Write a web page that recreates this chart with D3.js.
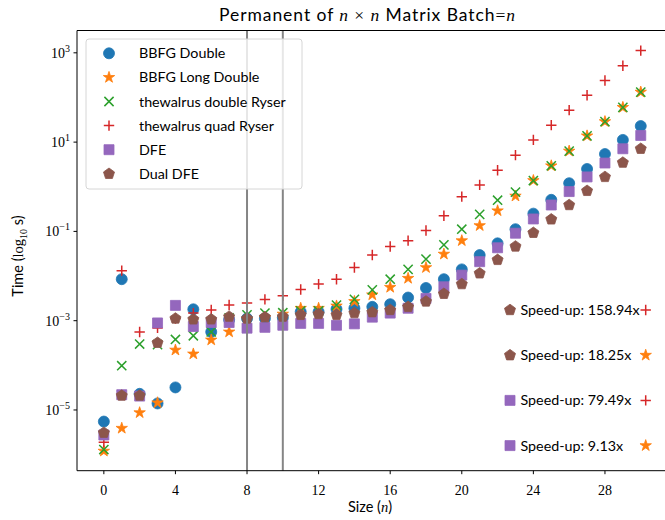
<!DOCTYPE html>
<html lang="en">
<head>
<meta charset="UTF-8">
<title>Permanent timing</title>
<script src="https://d3js.org/d3.v7.min.js"></script>
<style>
  body { margin: 0; background: #fff; }
  .sans { font-family: Lato, "DejaVu Sans", sans-serif; }
  .math { font-family: "Liberation Serif", "DejaVu Serif", serif; }
</style>
</head>
<body>
<svg id="chart" width="665" height="520"></svg>
<script>
  // matrix size n
  var sizes = d3.range(0, 31);

  // times in seconds
  var bbfgDouble = [5.5e-6, 8.5e-3, 2.3e-5, 1.4e-5, 3.2e-5, 1.8e-3, 5.6e-4, 1.05e-3, 1.12e-3, 1.12e-3,
    1.17e-3, 1.58e-3, 1.58e-3, 1.82e-3, 1.9e-3, 2.04e-3, 2.34e-3, 3.3e-3, 5.4e-3, 8.5e-3,
    1.41e-2, 2.95e-2, 5.4e-2, 0.112, 0.25, 0.51, 1.2, 2.5, 5.4, 11.2, 22.9];
  var bbfgLongDouble = [1.2e-6, 3.9e-6, 8.7e-6, 1.45e-5, 2.2e-4, 1.8e-4, 3.7e-4, 5.6e-4, 1.07e-3, 1.17e-3,
    1.41e-3, 1.9e-3, 1.9e-3, 2.14e-3, 2.7e-3, 3.8e-3, 5.6e-3, 8.9e-3, 1.55e-2, 3.1e-2,
    6.2e-2, 0.135, 0.29, 0.62, 1.38, 2.95, 6.3, 13.8, 28.8, 60, 132];
  var walrusDouble = [1.3e-6, 9.8e-5, 3.0e-4, 2.9e-4, 3.8e-4, 4.6e-4, 5.6e-4, 1.15e-3, 1.35e-3, 1.48e-3,
    1.51e-3, 1.66e-3, 1.66e-3, 2.24e-3, 3.0e-3, 4.9e-3, 8.5e-3, 1.41e-2, 2.4e-2, 5.0e-2,
    0.112, 0.24, 0.50, 0.76, 1.38, 2.95, 6.3, 13.8, 28.8, 60, 132];
  var walrusQuad = [1.9e-6, 1.32e-2, 5.6e-4, 6.9e-4, 1.12e-3, 1.48e-3, 1.74e-3, 2.24e-3, 2.5e-3, 3.0e-3,
    3.6e-3, 5.0e-3, 6.6e-3, 8.5e-3, 1.55e-2, 2.95e-2, 4.6e-2, 6.2e-2, 0.105, 0.224,
    0.60, 1.10, 2.34, 5.1, 11.2, 24, 52, 112, 240, 513, 1122];
  var dfe = [2.75e-6, 2.2e-5, 2.05e-5, 8.9e-4, 2.2e-3, 7.4e-4, 9.1e-4, 9.1e-4, 6.8e-4, 7.1e-4,
    7.9e-4, 8.7e-4, 8.7e-4, 7.9e-4, 8.5e-4, 1.2e-3, 1.48e-3, 1.9e-3, 3.16e-3, 5.75e-3,
    1.05e-2, 2.1e-2, 4.3e-2, 9.1e-2, 0.19, 0.39, 0.78, 1.66, 3.4, 7.1, 14.1];
  var dualDfe = [3.1e-6, 2.1e-5, 2.1e-5, 3.2e-4, 1.12e-3, 1.07e-3, 1.07e-3, 1.23e-3, 1.12e-3, 1.2e-3,
    1.23e-3, 1.35e-3, 1.41e-3, 1.35e-3, 1.48e-3, 1.55e-3, 1.74e-3, 2.04e-3, 2.7e-3, 4.0e-3,
    6.6e-3, 1.15e-2, 2.3e-2, 4.6e-2, 9.3e-2, 0.186, 0.39, 0.81, 1.66, 3.47, 7.1];

  var seriesNames = ["BBFG Double", "BBFG Long Double", "thewalrus double Ryser",
    "thewalrus quad Ryser", "DFE", "Dual DFE"];
  var seriesValues = [bbfgDouble, bbfgLongDouble, walrusDouble, walrusQuad, dfe, dualDfe];
  var seriesColors = ["#1f77b4", "#ff7f0e", "#2ca02c", "#d62728", "#9467bd", "#8c564b"];
  var seriesMarkers = ["circle", "star", "x", "plus", "square", "pentagon"];

  var xTicks = [0, 4, 8, 12, 16, 20, 24, 28];
  var yTickExps = [-5, -3, -1, 1, 3];
  var markedSizes = [8, 10];

  // speed-up notes: [label, left marker, right marker]
  var speedups = [
    ["Speed-up: 158.94x", "pentagon", "plus"],
    ["Speed-up: 18.25x", "pentagon", "star"],
    ["Speed-up: 79.49x", "square", "plus"],
    ["Speed-up: 9.13x", "square", "star"]
  ];

  var svg = d3.select("#chart");
  var plotLeft = 77, plotRight = 667.6, plotTop = 30.5, plotBottom = 470.7;

  var x = d3.scaleLinear().domain([-1.5, 31.5]).range([plotLeft, plotRight]);
  var y = d3.scaleLog().domain([Math.pow(10, -6.36), Math.pow(10, 3.5)]).range([plotBottom, plotTop]);

  function markerPath(kind) {
    var p = d3.path();
    if (kind === "circle") {
      return d3.symbol(d3.symbolCircle, 95)();
    } else if (kind === "square") {
      return d3.symbol(d3.symbolSquare, 100)();
    } else if (kind === "pentagon") {
      var r = 5.8;
      for (var i = 0; i < 5; i++) {
        var a = -Math.PI / 2 + i * 2 * Math.PI / 5;
        if (i === 0) p.moveTo(r * Math.cos(a), r * Math.sin(a)); else p.lineTo(r * Math.cos(a), r * Math.sin(a));
      }
      p.closePath();
      return p.toString();
    } else if (kind === "star") {
      var ro = 6.0, ri = ro * 0.382;
      for (var j = 0; j < 10; j++) {
        var b = -Math.PI / 2 + j * Math.PI / 5;
        var rr = j % 2 === 0 ? ro : ri;
        if (j === 0) p.moveTo(rr * Math.cos(b), rr * Math.sin(b)); else p.lineTo(rr * Math.cos(b), rr * Math.sin(b));
      }
      p.closePath();
      return p.toString();
    } else if (kind === "plus") {
      return "M-5.2,0H5.2M0,-5.2V5.2";
    } else {
      return "M-4.6,-4.6L4.6,4.6M-4.6,4.6L4.6,-4.6";
    }
  }

  function drawMarker(g, kind, color) {
    var stroked = kind === "plus" || kind === "x";
    g.append("path")
      .attr("d", markerPath(kind))
      .attr("fill", stroked ? "none" : color)
      .attr("stroke", color)
      .attr("stroke-width", stroked ? 1.5 : 0.8);
  }

  // points
  seriesValues.forEach(function (vals, si) {
    var g = svg.append("g");
    vals.forEach(function (v, i) {
      var m = g.append("g").attr("transform", "translate(" + x(sizes[i]) + "," + y(v) + ")");
      drawMarker(m, seriesMarkers[si], seriesColors[si]);
    });
  });

  // vertical reference lines
  svg.selectAll(".vline")
    .data(markedSizes)
    .enter()
    .append("line")
    .attr("x1", function (d) { return x(d) })
    .attr("x2", function (d) { return x(d) })
    .attr("y1", plotTop)
    .attr("y2", plotBottom)
    .attr("stroke", "#858585")
    .attr("stroke-width", 2);

  // spines
  svg.append("path")
    .attr("d", "M" + plotRight + "," + plotTop + "H" + plotLeft + "V" + plotBottom + "H" + plotRight)
    .attr("fill", "none")
    .attr("stroke", "#000")
    .attr("stroke-width", 1);

  // x ticks
  xTicks.forEach(function (t) {
    svg.append("line").attr("x1", x(t)).attr("x2", x(t)).attr("y1", plotBottom).attr("y2", plotBottom + 3.5)
      .attr("stroke", "#000");
    svg.append("text").attr("class", "math").attr("x", x(t)).attr("y", plotBottom + 24)
      .attr("text-anchor", "middle").attr("font-size", 14).text(t);
  });

  // y ticks
  yTickExps.forEach(function (e) {
    var yy = y(Math.pow(10, e));
    svg.append("line").attr("x1", plotLeft - 3.5).attr("x2", plotLeft).attr("y1", yy).attr("y2", yy)
      .attr("stroke", "#000");
    var t = svg.append("text").attr("class", "math").attr("x", plotLeft - 7).attr("y", yy + 5)
      .attr("text-anchor", "end").attr("font-size", 14);
    t.append("tspan").text("10");
    t.append("tspan").attr("font-size", 10).attr("dy", -6).text(e < 0 ? "\u2212" + (-e) : e);
  });

  // title
  var title = svg.append("text").attr("class", "sans").attr("x", 367).attr("y", 21)
    .attr("text-anchor", "middle").attr("font-size", 17.5)
    .attr("textLength", 296).attr("lengthAdjust", "spacing");
  title.append("tspan").text("Permanent of ");
  title.append("tspan").attr("class", "math").attr("font-style", "italic").text("n");
  title.append("tspan").attr("class", "math").text(" \u00d7 ");
  title.append("tspan").attr("class", "math").attr("font-style", "italic").text("n");
  title.append("tspan").text(" Matrix Batch");
  title.append("tspan").attr("class", "math").text("=");
  title.append("tspan").attr("class", "math").attr("font-style", "italic").text("n");

  // axis labels
  var xl = svg.append("text").attr("class", "sans").attr("x", 370).attr("y", 512)
    .attr("text-anchor", "middle").attr("font-size", 14.5);
  xl.append("tspan").text("Size (");
  xl.append("tspan").attr("class", "math").attr("font-style", "italic").text("n");
  xl.append("tspan").text(")");

  var yl = svg.append("text").attr("class", "sans")
    .attr("transform", "translate(23,256) rotate(-90)")
    .attr("text-anchor", "middle").attr("font-size", 14.5);
  yl.append("tspan").text("Time (");
  yl.append("tspan").attr("class", "math").text("log");
  yl.append("tspan").attr("class", "math").attr("font-size", 10).attr("dy", 4).text("10");
  yl.append("tspan").attr("dy", -4).text(" s)");

  // legend
  var legend = svg.append("g");
  legend.append("rect").attr("x", 86).attr("y", 39).attr("width", 216).attr("height", 150)
    .attr("rx", 3).attr("fill", "#fff").attr("fill-opacity", 0.8)
    .attr("stroke", "#d6d6d6").attr("stroke-width", 1);
  seriesNames.forEach(function (name, i) {
    var ly = 53.3 + i * 24.1;
    var m = legend.append("g").attr("transform", "translate(109," + ly + ")");
    drawMarker(m, seriesMarkers[i], seriesColors[i]);
    legend.append("text").attr("class", "sans").attr("x", 139).attr("y", ly + 5)
      .attr("font-size", 14.3).text(name);
  });

  // speed-up notes
  speedups.forEach(function (s, i) {
    var sy = 310 + i * 45.2;
    var c1 = seriesColors[seriesMarkers.indexOf(s[1])];
    var c2 = seriesColors[seriesMarkers.indexOf(s[2])];
    drawMarker(svg.append("g").attr("transform", "translate(510," + sy + ")"), s[1], c1);
    svg.append("text").attr("class", "sans").attr("x", 520.5).attr("y", sy + 5)
      .attr("font-size", 14.3).text(s[0]);
    drawMarker(svg.append("g").attr("transform", "translate(645.7," + sy + ")"), s[2], c2);
  });
</script>
</body>
</html>
